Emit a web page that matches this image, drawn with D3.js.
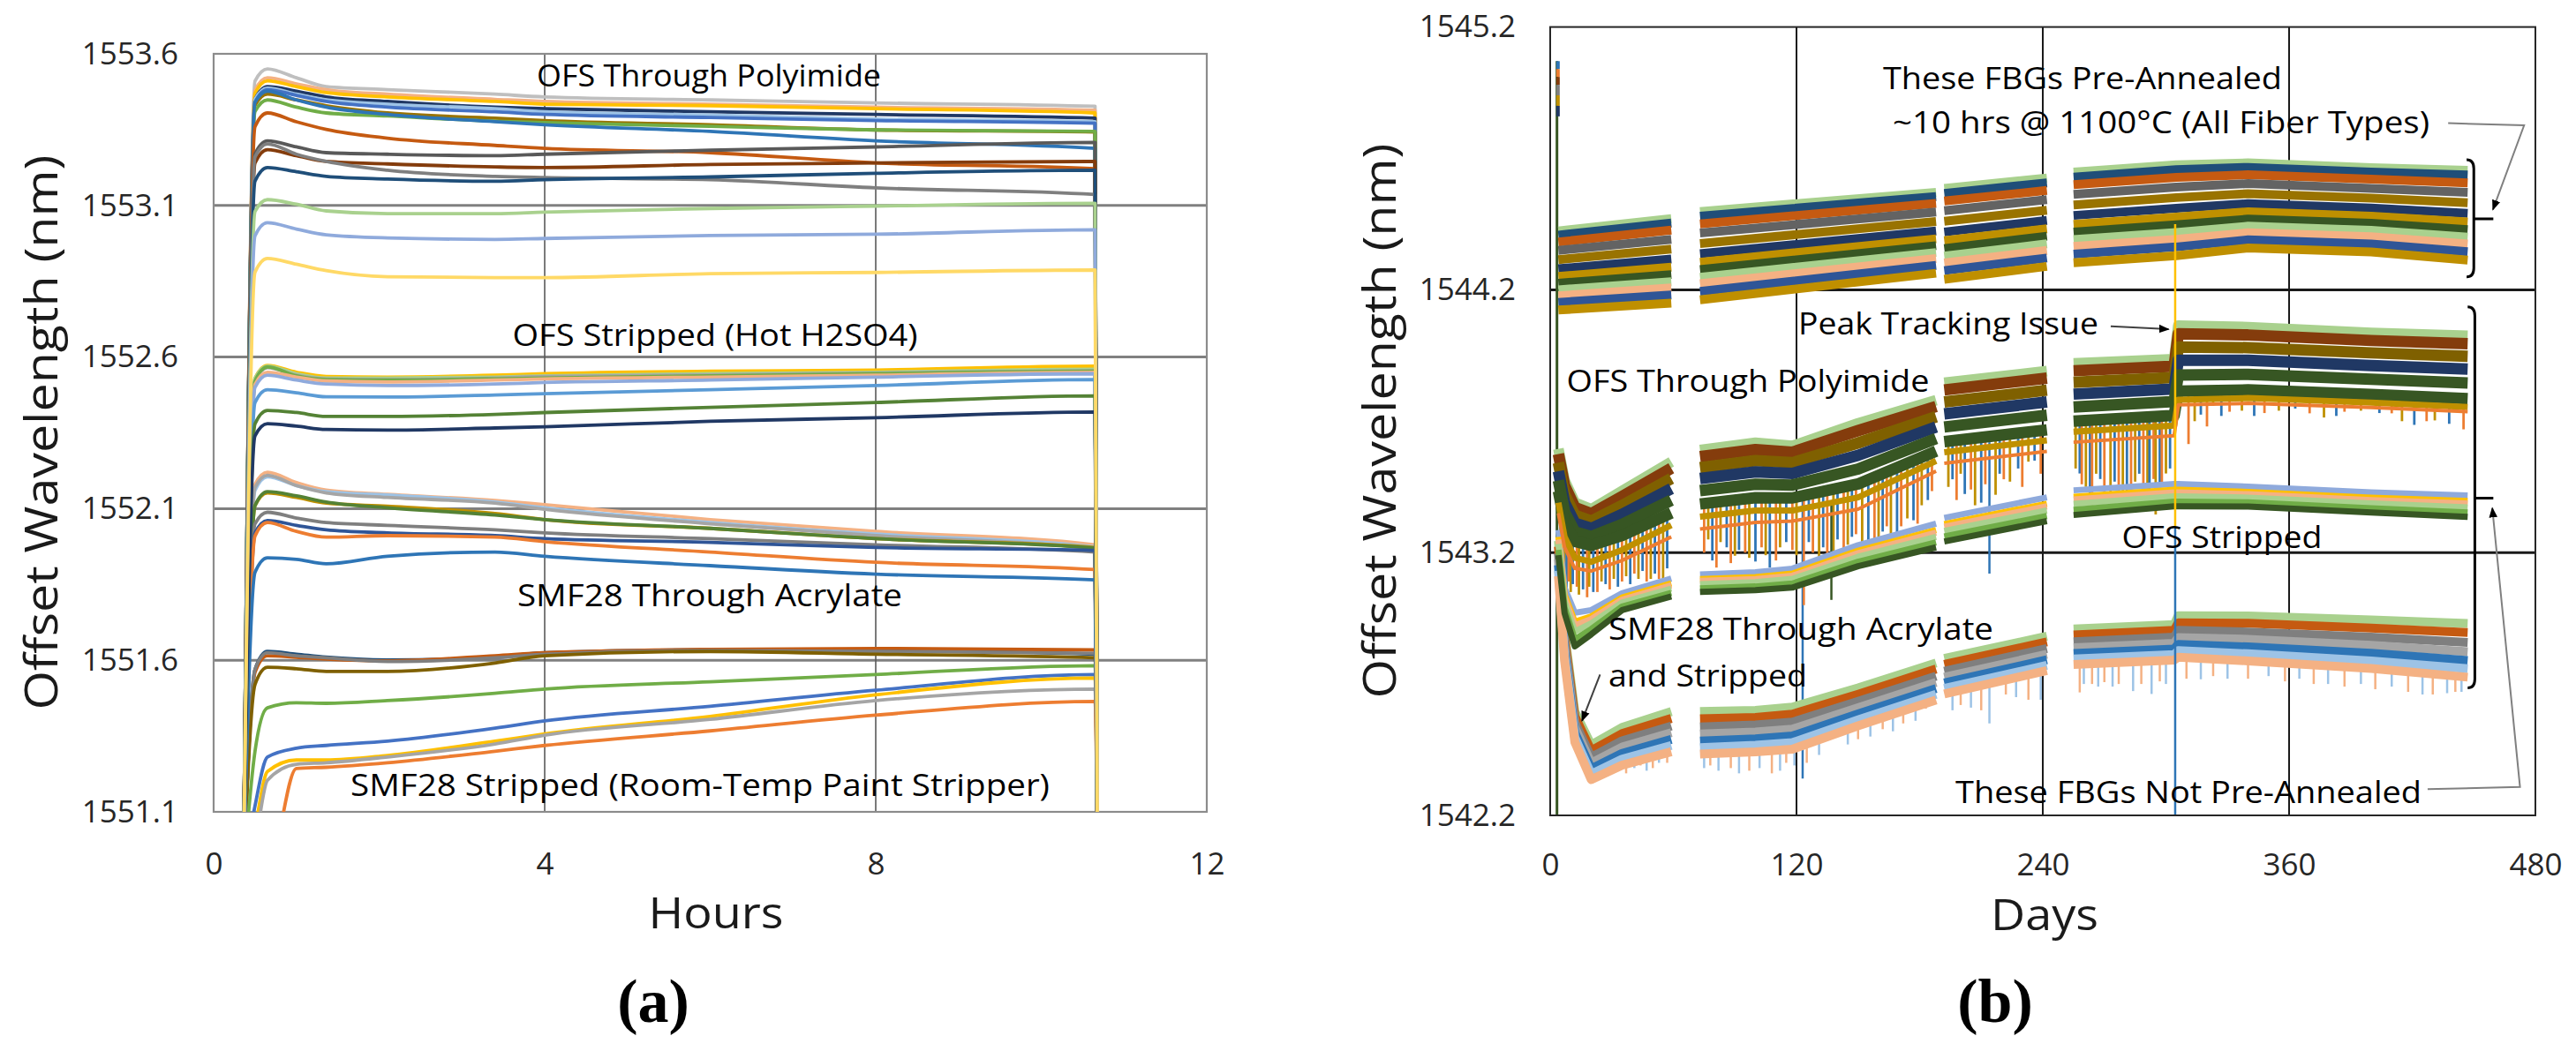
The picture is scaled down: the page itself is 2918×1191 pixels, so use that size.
<!DOCTYPE html>
<html><head><meta charset="utf-8">
<script src="https://cdn.jsdelivr.net/npm/d3@7"></script>
<style>body{margin:0;background:#fff}svg{display:block}</style>
</head><body>
<svg id="c" width="2918" height="1191"></svg>
<script>
// ================= DATA: panel (a) =================
const hoursTicks = [0, 4, 8, 12];
const wlTicksA = [1551.1, 1551.6, 1552.1, 1552.6, 1553.1, 1553.6];
const hoursT = [0.36, 0.5, 0.65, 1.0, 1.36, 2.1, 3.4, 4, 6, 8, 10.65, 10.68];

const polyColorsA = ['#BFBFBF','#F4B183','#FFC000','#203864','#9DC3E6','#4472C4','#997300','#70AD47','#2E75B6','#C55A11','#595959','#843C0C','#7F7F7F','#1F4E79','#A9D18E','#8FAADC','#FFD966'];
const polyValuesA = [
 [1550.9,1553.51,1553.550,1553.521,1553.492,1553.482,1553.467,1553.458,1553.448,1553.438,1553.427,1550.9],
 [1550.9,1553.48,1553.521,1553.501,1553.482,1553.467,1553.450,1553.443,1553.434,1553.424,1553.414,1550.9],
 [1550.9,1553.47,1553.511,1553.492,1553.472,1553.458,1553.443,1553.434,1553.429,1553.419,1553.405,1550.9],
 [1550.9,1553.45,1553.492,1553.477,1553.458,1553.443,1553.424,1553.419,1553.409,1553.400,1553.388,1550.9],
 [1550.9,1553.45,1553.487,1553.467,1553.448,1553.434,1553.419,1553.409,1553.398,1553.385,1553.376,1550.9],
 [1550.9,1553.44,1553.482,1553.463,1553.443,1553.424,1553.409,1553.400,1553.390,1553.380,1553.371,1550.9],
 [1550.9,1553.43,1553.467,1553.448,1553.429,1553.405,1553.388,1553.380,1553.366,1553.349,1553.342,1550.9],
 [1550.9,1553.41,1553.448,1553.424,1553.405,1553.395,1553.378,1553.373,1553.361,1553.349,1553.344,1550.9],
 [1550.9,1553.44,1553.477,1553.448,1553.424,1553.400,1553.376,1553.366,1553.344,1553.313,1553.288,1550.9],
 [1550.9,1553.36,1553.405,1553.376,1553.351,1553.322,1553.298,1553.288,1553.274,1553.240,1553.221,1550.9],
 [1550.9,1553.27,1553.313,1553.293,1553.274,1553.269,1553.264,1553.269,1553.282,1553.293,1553.308,1550.9],
 [1550.9,1553.24,1553.284,1553.264,1553.245,1553.237,1553.227,1553.225,1553.235,1553.240,1553.245,1550.9],
 [1550.9,1553.26,1553.303,1553.269,1553.245,1553.216,1553.196,1553.192,1553.185,1553.158,1553.136,1550.9],
 [1550.9,1553.18,1553.225,1553.211,1553.196,1553.187,1553.180,1553.185,1553.194,1553.206,1553.216,1550.9],
 [1550.9,1553.08,1553.119,1553.104,1553.082,1553.073,1553.073,1553.078,1553.090,1553.098,1553.107,1550.9],
 [1550.9,1553.00,1553.043,1553.022,1553.003,1552.993,1552.988,1552.991,1553.001,1553.005,1553.020,1550.9],
 [1550.9,1552.88,1552.925,1552.906,1552.885,1552.865,1552.862,1552.862,1552.875,1552.879,1552.887,1550.9]
];
const h2so4ColorsA = ['#FFC000','#A9D18E','#A5A5A5','#70AD47','#F4B183','#8FAADC','#5B9BD5','#548235','#203864'];
const h2so4ValuesA = [
 [1550.9,1552.53,1552.572,1552.550,1552.536,1552.534,1552.540,1552.545,1552.553,1552.557,1552.570,1550.9],
 [1550.9,1552.53,1552.570,1552.545,1552.531,1552.531,1552.534,1552.538,1552.545,1552.550,1552.560,1550.9],
 [1550.9,1552.52,1552.565,1552.540,1552.528,1552.526,1552.531,1552.536,1552.541,1552.547,1552.555,1550.9],
 [1550.9,1552.52,1552.567,1552.538,1552.526,1552.524,1552.528,1552.531,1552.538,1552.545,1552.553,1550.9],
 [1550.9,1552.51,1552.550,1552.534,1552.521,1552.518,1552.524,1552.528,1552.534,1552.540,1552.550,1550.9],
 [1550.9,1552.50,1552.540,1552.524,1552.511,1552.506,1552.511,1552.516,1552.524,1552.534,1552.545,1550.9],
 [1550.9,1552.45,1552.492,1552.482,1552.469,1552.468,1552.475,1552.479,1552.492,1552.506,1552.526,1550.9],
 [1550.9,1552.38,1552.424,1552.417,1552.404,1552.404,1552.411,1552.417,1552.434,1552.450,1552.472,1550.9],
 [1550.9,1552.34,1552.380,1552.372,1552.361,1552.359,1552.366,1552.370,1552.388,1552.400,1552.419,1550.9]
];
const acrylColorsA = ['#F4B183','#9DC3E6','#A5A5A5','#BF9000','#548235','#7F7F7F','#2F5597','#ED7D31','#2E75B6'];
const acrylValuesA = [
 [1550.9,1552.18,1552.220,1552.186,1552.161,1552.147,1552.127,1552.113,1552.064,1552.025,1551.981,1550.9],
 [1550.9,1552.16,1552.205,1552.176,1552.156,1552.145,1552.122,1552.103,1552.054,1552.016,1551.974,1550.9],
 [1550.9,1552.17,1552.210,1552.176,1552.152,1552.137,1552.118,1552.098,1552.050,1552.011,1551.967,1550.9],
 [1550.9,1552.11,1552.152,1552.137,1552.118,1552.108,1552.084,1552.064,1552.035,1552.001,1551.972,1550.9],
 [1550.9,1552.11,1552.156,1552.142,1552.122,1552.103,1552.079,1552.064,1552.035,1552.001,1551.970,1550.9],
 [1550.9,1552.05,1552.088,1552.069,1552.054,1552.045,1552.030,1552.020,1552.001,1551.981,1551.957,1550.9],
 [1550.9,1552.02,1552.061,1552.045,1552.030,1552.020,1552.011,1552.001,1551.989,1551.972,1551.962,1550.9],
 [1550.9,1552.01,1552.054,1552.025,1552.006,1552.011,1552.006,1551.991,1551.957,1551.923,1551.899,1550.9],
 [1550.9,1551.89,1551.938,1551.933,1551.918,1551.943,1551.957,1551.943,1551.912,1551.884,1551.865,1550.9]
];
const smfColorsA = ['#1F4E79','#C55A11','#7F7F7F','#7F6000','#70AD47','#4472C4','#FFC000','#A5A5A5','#ED7D31'];
const smfValuesA = [
 [1550.9,1551.57,1551.629,1551.620,1551.610,1551.601,1551.610,1551.625,1551.634,1551.632,1551.620,1550.9],
 [1550.9,1551.56,1551.615,1551.610,1551.604,1551.598,1551.615,1551.625,1551.636,1551.639,1551.634,1550.9],
 [1550.9,1551.57,1551.625,1551.615,1551.608,1551.596,1551.608,1551.620,1551.632,1551.629,1551.623,1550.9],
 [1550.9,1551.52,1551.577,1551.572,1551.563,1551.563,1551.591,1551.615,1551.629,1551.620,1551.608,1550.9],
 [1550.9,1551.30,1551.443,1551.460,1551.458,1551.467,1551.491,1551.505,1551.529,1551.553,1551.582,1550.9],
 [1550.9,1551.12,1551.281,1551.310,1551.319,1551.333,1551.376,1551.400,1551.448,1551.501,1551.553,1550.9],
 [1550.9,1551.05,1551.233,1551.271,1551.271,1551.286,1551.333,1551.357,1551.415,1551.486,1551.541,1550.9],
 [1550.9,1551.00,1551.204,1551.257,1551.262,1551.281,1551.324,1551.353,1551.405,1551.467,1551.505,1550.9],
 [1550.9,1550.9,1550.9,1551.243,1551.247,1551.262,1551.300,1551.319,1551.367,1551.419,1551.464,1550.9]
];

// ================= DATA: panel (b) =================
const dayTicks = [0, 120, 240, 360, 480];
const wlTicksB = [1542.2, 1543.2, 1544.2, 1545.2];
const daysTop = [4, 59, 66, 73, 188, 190, 192, 242, 248, 255, 305, 340, 400, 447];
const topColors = ['#A9D18E','#1F4E79','#C55A11','#636363','#997300','#203864','#BF9000','#375623','#A9D18E','#F4B183','#2F5597','#BF8F00'];
const topValues = [
 [1544.424,1544.471,null,1544.498,1544.571,null,1544.586,1544.625,null,1544.648,1544.676,1544.683,1544.665,1544.655],
 [1544.408,1544.454,null,1544.480,1544.555,null,1544.567,1544.607,null,1544.629,1544.657,1544.666,1544.648,1544.637],
 [1544.382,1544.427,null,1544.451,1544.529,null,1544.538,1544.578,null,1544.600,1544.628,1544.638,1544.621,1544.607],
 [1544.350,1544.392,null,1544.416,1544.496,null,1544.501,1544.543,null,1544.563,1544.591,1544.604,1544.586,1544.571],
 [1544.315,1544.355,null,1544.376,1544.460,null,1544.461,1544.503,null,1544.523,1544.551,1544.566,1544.549,1544.531],
 [1544.280,1544.317,null,1544.337,1544.424,null,1544.420,1544.464,null,1544.483,1544.510,1544.528,1544.511,1544.491],
 [1544.251,1544.286,null,1544.305,1544.394,null,1544.387,1544.432,null,1544.449,1544.477,1544.497,1544.480,1544.458],
 [1544.225,1544.258,null,1544.277,1544.368,null,1544.357,1544.404,null,1544.420,1544.447,1544.469,1544.453,1544.429],
 [1544.200,1544.231,null,1544.248,1544.342,null,1544.328,1544.375,null,1544.391,1544.418,1544.442,1544.426,1544.400],
 [1544.177,1544.207,null,1544.223,1544.319,null,1544.302,1544.350,null,1544.365,1544.392,1544.417,1544.402,1544.374],
 [1544.152,1544.180,null,1544.194,1544.293,null,1544.273,1544.321,null,1544.336,1544.363,1544.390,1544.374,1544.345],
 [1544.123,1544.149,null,1544.162,1544.263,null,1544.240,1544.289,null,1544.303,1544.330,1544.359,1544.344,1544.313]
];
const daysMid = [4, 7, 12, 20, 35, 59, 66, 73, 100, 118, 150, 188, 190, 192, 242, 248, 255, 304, 306, 340, 400, 447];
const polyColors = ['#A9D18E','#843C0C','#7F6000','#203864','#375623','#375623','#BF9000','#ED7D31'];
const polyWidths = [12, 13, 13, 13, 13, 13, 7, 4];
const polyValues = [
 [1543.595,1543.475,1543.390,1543.365,1543.434,1543.545,null,1543.590,1543.618,1543.606,1543.692,1543.780,null,1543.846,1543.891,null,1543.920,1543.936,1544.064,1544.058,1544.036,1544.025],
 [1543.575,1543.455,1543.372,1543.348,1543.413,1543.521,null,1543.565,1543.592,1543.582,1543.664,1543.756,null,1543.819,1543.864,null,1543.892,1543.909,1544.033,1544.028,1544.007,1543.995],
 [1543.542,1543.422,1543.342,1543.320,1543.379,1543.482,null,1543.523,1543.550,1543.542,1543.617,1543.717,null,1543.773,1543.818,null,1543.848,1543.866,1543.982,1543.980,1543.960,1543.947],
 [1543.510,1543.390,1543.312,1543.292,1543.345,1543.443,null,1543.482,1543.507,1543.501,1543.570,1543.678,null,1543.728,1543.773,null,1543.803,1543.823,1543.932,1543.932,1543.912,1543.898],
 [1543.474,1543.354,1543.279,1543.261,1543.307,1543.399,null,1543.436,1543.460,1543.457,1543.518,1543.634,null,1543.678,1543.723,null,1543.754,1543.775,1543.876,1543.878,1543.860,1543.845],
 [1543.434,1543.314,1543.243,1543.227,1543.265,1543.351,null,1543.385,1543.409,1543.408,1543.461,1543.586,null,1543.622,1543.667,null,1543.700,1543.722,1543.814,1543.819,1543.802,1543.786],
 [1543.390,1543.260,1543.180,1543.165,1543.210,1543.304,null,1543.337,1543.360,1543.360,1543.410,1543.549,null,1543.582,1543.627,null,1543.660,1543.683,1543.782,1543.788,1543.771,1543.754],
 [1543.350,1543.220,1543.140,1543.130,1543.170,1543.260,null,1543.290,1543.315,1543.320,1543.365,1543.510,null,1543.540,1543.585,null,1543.620,1543.645,1543.762,1543.768,1543.752,1543.736]
];
const stripColors = ['#8FAADC','#FFC000','#F4B183','#A9D18E','#70AD47','#375623'];
const stripValues = [
 [1543.286,1543.066,1542.971,1542.981,1543.045,1543.101,null,1543.117,1543.125,1543.139,1543.228,1543.310,null,1543.332,1543.410,null,1543.437,1543.461,1543.461,1543.451,1543.429,1543.417],
 [1543.260,1543.040,1542.937,1542.957,1543.029,1543.083,null,1543.099,1543.107,1543.120,1543.207,1543.286,null,1543.308,1543.386,null,1543.412,1543.439,1543.439,1543.431,1543.409,1543.396],
 [1543.250,1543.030,1542.923,1542.947,1543.021,1543.075,null,1543.092,1543.099,1543.112,1543.198,1543.276,null,1543.298,1543.376,null,1543.402,1543.429,1543.429,1543.422,1543.400,1543.387],
 [1543.233,1543.013,1542.900,1542.931,1543.010,1543.063,null,1543.080,1543.087,1543.100,1543.184,1543.260,null,1543.282,1543.360,null,1543.385,1543.414,1543.414,1543.409,1543.387,1543.372],
 [1543.210,1542.990,1542.870,1542.909,1542.995,1543.047,null,1543.064,1543.071,1543.082,1543.165,1543.239,null,1543.261,1543.339,null,1543.363,1543.394,1543.394,1543.391,1543.369,1543.353],
 [1543.190,1542.970,1542.843,1542.889,1542.981,1543.033,null,1543.050,1543.057,1543.067,1543.148,1543.220,null,1543.242,1543.320,null,1543.343,1543.376,1543.376,1543.375,1543.353,1543.336]
];
const smfColors = ['#A9D18E','#C55A11','#7F7F7F','#A5A5A5','#2E75B6','#9DC3E6','#F4B183'];
const smfValues = [
 [1543.245,1542.896,1542.596,1542.468,1542.535,1542.595,null,1542.595,1542.600,1542.612,1542.685,1542.780,null,1542.797,1542.882,null,1542.909,1542.926,1542.960,1542.959,1542.944,1542.930],
 [1543.223,1542.878,1542.577,1542.446,1542.511,1542.569,null,1542.568,1542.573,1542.585,1542.661,1542.757,null,1542.775,1542.860,null,1542.887,1542.904,1542.933,1542.931,1542.913,1542.896],
 [1543.197,1542.858,1542.554,1542.421,1542.484,1542.540,null,1542.537,1542.544,1542.555,1542.634,1542.730,null,1542.749,1542.835,null,1542.861,1542.878,1542.904,1542.898,1542.878,1542.858],
 [1543.175,1542.840,1542.535,1542.399,1542.460,1542.515,null,1542.510,1542.517,1542.528,1542.610,1542.706,null,1542.726,1542.813,null,1542.838,1542.855,1542.877,1542.870,1542.847,1542.823],
 [1543.152,1542.822,1542.515,1542.377,1542.436,1542.489,null,1542.483,1542.491,1542.502,1542.586,1542.683,null,1542.704,1542.792,null,1542.816,1542.833,1542.851,1542.841,1542.817,1542.789],
 [1543.131,1542.805,1542.497,1542.357,1542.414,1542.466,null,1542.458,1542.467,1542.477,1542.564,1542.661,null,1542.683,1542.771,null,1542.795,1542.812,1542.827,1542.815,1542.788,1542.758],
 [1543.110,1542.788,1542.479,1542.336,1542.391,1542.442,null,1542.433,1542.442,1542.452,1542.541,1542.639,null,1542.662,1542.751,null,1542.774,1542.791,1542.802,1542.788,1542.759,1542.726]
];
// downward spikes hanging below the polyimide band (day, lowest value)
const polySpikeDays = [5,6,7,8,9,10,11,13,14,16,18,19,21,23,25,27,29,31,33,35,37,39,41,43,45,47,49,51,53,55,57,
  75,77,79,81,83,86,88,90,92,95,97,100,103,105,107,110,112,115,118,120,126,128,131,133,135,138,140,143,145,147,149,152,155,158,160,162,164,166,169,171,174,177,179,181,184,186,
  194,196,198,200,202,205,207,210,212,217,219,221,224,228,230,233,236,239,
  256,258,259,261,263,264,266,268,270,273,275,277,279,281,283,285,287,289,291,292,294,295,297,298,300,302,
  311,314,317,320,323,327,331,337,343,348,355,363,370,377,383,387,395,404,410,415,421,427,431,438,445];
const polySpikeLows = [1543.15,1543.12,1543.10,1543.06,1543.09,1543.05,1543.08,1543.07,1543.04,1543.06,1543.03,1543.07,1543.05,1543.05,1543.09,1543.08,1543.06,1543.10,1543.07,1543.09,1543.11,1543.08,1543.12,1543.10,1543.13,1543.09,1543.10,1543.12,1543.10,1543.08,1543.14,
  1543.20,1543.25,1543.17,1543.143,1543.24,1543.22,1543.16,1543.188,1543.21,1543.20,1543.18,1543.166,1543.22,1543.19,1543.143,1543.17,1543.22,1543.24,1543.21,1543.19,1543.24,1543.20,1543.18,1543.22,1543.121,1543.20,1543.25,1543.188,1543.23,1543.26,1543.27,1543.211,1543.22,1543.24,1543.26,1543.28,1543.30,1543.233,1543.27,1543.30,1543.33,1543.323,1543.31,1543.38,1543.40,1543.434,
  1543.45,1543.479,1543.40,1543.50,1543.423,1543.44,1543.38,1543.390,1543.46,1543.42,1543.50,1543.479,1543.47,1543.52,1543.45,1543.546,1543.55,1543.50,
  1543.52,1543.501,1543.46,1543.45,1543.42,1543.367,1543.50,1543.48,1543.40,1543.412,1543.47,1543.43,1543.38,1543.434,1543.44,1543.47,1543.50,1543.390,1543.36,1543.44,1543.48,1543.345,1543.41,1543.46,1543.501,1543.52,
  1543.613,1543.70,1543.725,1543.68,1543.759,1543.72,1543.736,1543.74,1543.72,1543.731,1543.74,1543.748,1543.73,1543.714,1543.72,1543.736,1543.74,1543.731,1543.73,1543.70,1543.686,1543.70,1543.703,1543.69,1543.669];
const spikeColors = ['#2E75B6','#ED7D31','#BF9000'];
const longSpikeDays = [123, 123.6, 137, 214];
const longSpikeTops = [1543.40, 1543.40, 1543.38, 1543.62];
const longSpikeLows = [1542.34, 1543.00, 1543.02, 1543.12];
const longSpikeColors = ['#2E75B6','#ED7D31','#375623','#2E75B6'];
const smfSpikeDays = [22,25,28,30,33,37,41,44,47,50,53,57,75,78,82,88,92,97,102,108,112,115,119,125,131,140,145,150,156,162,167,172,178,183,196,200,205,210,214,222,227,233,239,258,260,264,267,270,274,277,284,288,293,297,300,310,317,323,330,340,350,358,365,372,379,387,395,402,410,418,425,430,437,441,444];
const smfSpikeLows = [1542.33,1542.36,1542.35,1542.37,1542.37,1542.36,1542.38,1542.39,1542.37,1542.38,1542.40,1542.40,1542.38,1542.39,1542.37,1542.38,1542.36,1542.37,1542.38,1542.36,1542.37,1542.40,1542.39,1542.40,1542.43,1542.505,1542.47,1542.49,1542.50,1542.528,1542.52,1542.55,1542.56,1542.606,1542.60,1542.62,1542.61,1542.60,1542.55,1542.66,1542.65,1542.64,1542.64,1542.668,1542.70,1542.70,1542.69,1542.707,1542.69,1542.70,1542.673,1542.70,1542.662,1542.71,1542.70,1542.72,1542.718,1542.73,1542.72,1542.72,1542.73,1542.71,1542.72,1542.70,1542.70,1542.69,1542.70,1542.68,1542.69,1542.67,1542.66,1542.66,1542.665,1542.67,1542.67];
const smfSpikeColors = ['#9DC3E6','#F4B183'];
// peak-tracking glitch at day ~304.5
const trackDay = 304.5;
const trackLows = [1542.2, 1543.30];
const trackHighs = [1543.30, 1544.45];
const trackColors = ['#2E75B6','#FFC000'];
// initial transient at day ~3.5
const initLineDay = 3.3;
const initLineVals = [1542.2, 1545.07];
const initBitDay = 3.8;
const initBitVals = [1545.07, 1545.04, 1545.01, 1544.98, 1544.94, 1544.90, 1544.86];
const initBitColors = ['#2E75B6','#ED7D31','#843C0C','#7F7F7F','#BF9000','#203864'];

// ================= DRAW =================
const FONT = "'Open Sans','Noto Sans','DejaVu Sans',sans-serif";
const svg = d3.select('#c');
svg.append('rect').attr('width',2918).attr('height',1191).attr('fill','#fff');
const defs = svg.append('defs');
defs.append('marker').attr('id','ah2').attr('viewBox','0 0 10 10').attr('refX',9).attr('refY',5)
  .attr('markerWidth',12).attr('markerHeight',12).attr('markerUnits','userSpaceOnUse').attr('orient','auto')
  .append('path').attr('d','M0,1L10,5L0,9z').attr('fill','#000');

function txt(x,y,s,o){
  o=o||{};
  const t=svg.append('text').attr('x',x).attr('y',y).text(s)
   .attr('font-family',o.font||FONT).attr('font-size',o.size||34)
   .attr('text-anchor',o.anchor||'middle').attr('fill',o.fill||'#000');
  if(o.weight) t.attr('font-weight',o.weight);
  if(o.len) t.attr('textLength',o.len).attr('lengthAdjust','spacingAndGlyphs');
  if(o.rot) t.attr('transform',`rotate(-90,${x},${y})`).attr('dominant-baseline','central');
  return t;
}

// ---------- Panel (a) ----------
const xA = d3.scaleLinear().domain([0,12]).range([242,1367]);
const yA = d3.scaleLinear().domain([1551.1,1553.6]).range([920,61]);
const gA = svg.append('g');
defs.append('clipPath').attr('id','clipA').append('rect').attr('x',242).attr('y',61).attr('width',1125).attr('height',859);
gA.selectAll('.hg').data(wlTicksA.slice(1,5)).join('line')
  .attr('x1',xA(0)).attr('x2',xA(12)).attr('y1',d=>yA(d)).attr('y2',d=>yA(d))
  .attr('stroke','#808080').attr('stroke-width',3);
gA.selectAll('.vg').data([4,8]).join('line')
  .attr('x1',d=>xA(d)).attr('x2',d=>xA(d)).attr('y1',yA(1551.1)).attr('y2',yA(1553.6))
  .attr('stroke','#595959').attr('stroke-width',1.6);
gA.append('rect').attr('x',xA(0)).attr('y',yA(1553.6)).attr('width',xA(12)-xA(0)).attr('height',yA(1551.1)-yA(1553.6))
  .attr('fill','none').attr('stroke','#8c8c8c').attr('stroke-width',2.2);
const lineA = d3.line().curve(d3.curveMonotoneX).x(d=>xA(d[0])).y(d=>yA(d[1]));
const linesA = gA.append('g').attr('clip-path','url(#clipA)');
function drawGroupA(vals, cols){
  vals.forEach((v,i)=>{
    linesA.append('path').attr('d',lineA(hoursT.map((t,j)=>[t,v[j]])))
      .attr('fill','none').attr('stroke',cols[i]).attr('stroke-width',3.8)
      .attr('stroke-linejoin','round').attr('stroke-linecap','round');
  });
}
drawGroupA(smfValuesA, smfColorsA);
drawGroupA(acrylValuesA, acrylColorsA);
drawGroupA(h2so4ValuesA, h2so4ColorsA);
drawGroupA(polyValuesA, polyColorsA);
const axLA = svg.append('g').attr('transform',`translate(${xA(0)},0)`)
  .call(d3.axisLeft(yA).tickValues(wlTicksA).tickSize(0).tickPadding(40).tickFormat(d3.format('.1f')));
const axBA = svg.append('g').attr('transform',`translate(0,${yA(1551.1)})`)
  .call(d3.axisBottom(xA).tickValues(hoursTicks).tickSize(0).tickPadding(46).tickFormat(d3.format('d')));
[axLA,axBA].forEach(a=>{a.select('.domain').remove();a.selectAll('text').attr('font-family',FONT).attr('font-size',35).attr('fill','#262626');});
txt(811,1052,'Hours',{size:50,len:153,fill:'#1a1a1a'});
txt(44,490,'Offset Wavelength (nm)',{size:52,len:629,rot:true,fill:'#1a1a1a'});
txt(740,1158,'(a)',{size:70,font:"'Liberation Serif','DejaVu Serif',serif",weight:'bold'});
txt(803,98,'OFS Through Polyimide',{size:34,len:390});
txt(810,392,'OFS Stripped (Hot H2SO4)',{size:34,len:459});
txt(804,687,'SMF28 Through Acrylate',{size:34,len:436});
txt(793,902,'SMF28 Stripped (Room-Temp Paint Stripper)',{size:34,len:792});

// ---------- Panel (b) ----------
const xB = d3.scaleLinear().domain([0,480]).range([1756,2872]);
const yB = d3.scaleLinear().domain([1542.2,1545.2]).range([924,30.6]);
const gB = svg.append('g');
defs.append('clipPath').attr('id','clipB').append('rect').attr('x',1756).attr('y',30).attr('width',1116).attr('height',894);
gB.selectAll('.hg').data([1543.2,1544.2]).join('line')
  .attr('x1',xB(0)).attr('x2',xB(480)).attr('y1',d=>yB(d)).attr('y2',d=>yB(d))
  .attr('stroke','#1a1a1a').attr('stroke-width',3);
gB.selectAll('.vg').data([120,240,360]).join('line')
  .attr('x1',d=>xB(d)).attr('x2',d=>xB(d)).attr('y1',yB(1542.2)).attr('y2',yB(1545.2))
  .attr('stroke','#1a1a1a').attr('stroke-width',2);
const linesB = gB.append('g').attr('clip-path','url(#clipB)');
const lineB = d3.line().defined(d=>d[1]!=null).x(d=>xB(d[0])).y(d=>yB(d[1]));
function drawBand(days, vals, cols, w){
  vals.forEach((v,i)=>{
    linesB.append('path').attr('d',lineB(days.map((t,j)=>[t,v[j]])))
      .attr('fill','none').attr('stroke',cols[i]).attr('stroke-width',Array.isArray(w)?w[i]:w)
      .attr('stroke-linejoin','round').attr('stroke-linecap','butt');
  });
}
function interpAt(days, vals, d){
  for(let j=0;j<days.length-1;j++){
    if(d>=days[j] && d<=days[j+1] && vals[j]!=null && vals[j+1]!=null){
      return vals[j]+(vals[j+1]-vals[j])*(d-days[j])/(days[j+1]-days[j]);
    }
  }
  return null;
}
function vseg(day, v1, v2, col, w){
  linesB.append('line').attr('x1',xB(day)).attr('x2',xB(day)).attr('y1',yB(v1)).attr('y2',yB(v2))
    .attr('stroke',col).attr('stroke-width',w);
}
vseg(initLineDay, initLineVals[0], initLineVals[1], '#375623', 3);
initBitColors.forEach((c,i)=>vseg(initBitDay, initBitVals[i], initBitVals[i+1], c, 4));
smfSpikeDays.forEach((d,i)=>{ const top=interpAt(daysMid, smfValues[6], d); if(top!=null) vseg(d, top, smfSpikeLows[i], smfSpikeColors[i%2], 2.5); });
polySpikeDays.forEach((d,i)=>{ const top=interpAt(daysMid, polyValues[5], d); if(top!=null) vseg(d, top, polySpikeLows[i], spikeColors[i%3], 2.8); });
longSpikeDays.forEach((d,i)=>vseg(d, longSpikeTops[i], longSpikeLows[i], longSpikeColors[i], 2.5));
drawBand(daysMid, smfValues, smfColors, 10);
drawBand(daysMid, stripValues, stripColors, 7);
drawBand(daysMid, polyValues, polyColors, polyWidths);
drawBand(daysTop, topValues, topColors, 10);
trackColors.forEach((c,i)=>vseg(trackDay, trackLows[i], trackHighs[i], c, 2.5));
gB.append('rect').attr('x',xB(0)).attr('y',yB(1545.2)).attr('width',xB(480)-xB(0)).attr('height',yB(1542.2)-yB(1545.2))
  .attr('fill','none').attr('stroke','#262626').attr('stroke-width',2);
const axLB = svg.append('g').attr('transform',`translate(${xB(0)},0)`)
  .call(d3.axisLeft(yB).tickValues(wlTicksB).tickSize(0).tickPadding(39).tickFormat(d3.format('.1f')));
const axBB = svg.append('g').attr('transform',`translate(0,${yB(1542.2)})`)
  .call(d3.axisBottom(xB).tickValues(dayTicks).tickSize(0).tickPadding(43).tickFormat(d3.format('d')));
[axLB,axBB].forEach(a=>{a.select('.domain').remove();a.selectAll('text').attr('font-family',FONT).attr('font-size',35).attr('fill','#262626');});
txt(2316,1054,'Days',{size:50,len:122,fill:'#1a1a1a'});
txt(1560,477,'Offset Wavelength (nm)',{size:52,len:629,rot:true,fill:'#1a1a1a'});
txt(2260,1158,'(b)',{size:70,font:"'Liberation Serif','DejaVu Serif',serif",weight:'bold'});
txt(2359,101,'These FBGs Pre-Annealed',{size:34,len:452});
txt(2448,151,'~10 hrs @ 1100°C (All Fiber Types)',{size:34,len:608});
txt(2207,379,'Peak Tracking Issue',{size:34,len:340});
txt(1980,444,'OFS Through Polyimide',{size:34,len:411});
txt(2517,621,'OFS Stripped',{size:34,len:227});
txt(1822,725,'SMF28 Through Acrylate',{size:34,len:436,anchor:'start'});
txt(1822,778,'and Stripped',{size:34,len:225,anchor:'start'});
txt(2479,910,'These FBGs Not Pre-Annealed',{size:34,len:528});

const ann = svg.append('g').attr('fill','none');
function bracket(dx, dTip, vTop, vMid, vBot){
  const x=xB(dx), xl=xB(dx-3.5), xt=xB(dTip);
  ann.append('path').attr('d',`M${xl},${yB(vTop)} Q${x},${yB(vTop)} ${x},${yB(vTop)+10} L${x},${yB(vBot)-10} Q${x},${yB(vBot)} ${xl},${yB(vBot)} M${x},${yB(vMid)} L${xt},${yB(vMid)}`)
   .attr('stroke','#000').attr('stroke-width',3);
}
bracket(450, 459.5, 1544.695, 1544.470, 1544.249);
bracket(450.5, 459.5, 1544.135, 1543.407, 1542.685);
const lineD = d3.line().x(d=>xB(d[0])).y(d=>yB(d[1]));
ann.append('path').attr('d',lineD([[437.5,1544.834],[474.5,1544.826],[459.3,1544.505]]))
  .attr('stroke','#808080').attr('stroke-width',2).attr('marker-end','url(#ah2)');
ann.append('path').attr('d',lineD([[427.5,1542.300],[472.5,1542.308],[459.0,1543.370]]))
  .attr('stroke','#808080').attr('stroke-width',2).attr('marker-end','url(#ah2)');
ann.append('path').attr('d',lineD([[273.1,1544.061],[301.3,1544.050]]))
  .attr('stroke','#404040').attr('stroke-width',2).attr('marker-end','url(#ah2)');
ann.append('path').attr('d',lineD([[24.3,1542.736],[15.5,1542.560]]))
  .attr('stroke','#404040').attr('stroke-width',2).attr('marker-end','url(#ah2)');
</script>
</body></html>
